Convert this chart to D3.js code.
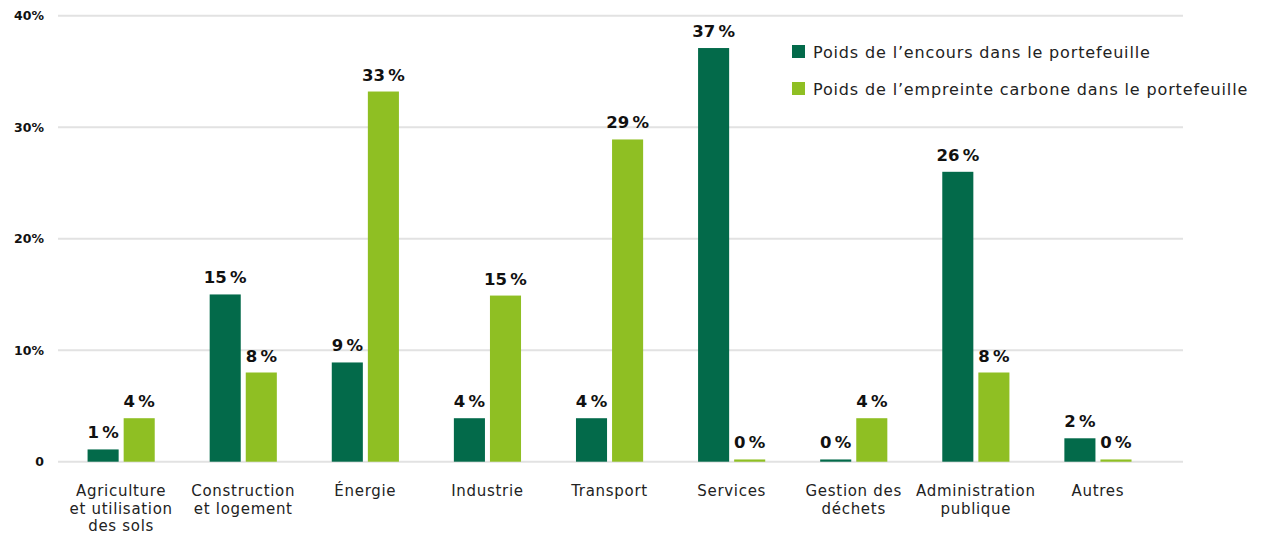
<!DOCTYPE html>
<html>
<head>
<meta charset="utf-8">
<script src="https://cdn.jsdelivr.net/npm/d3@7"></script>
<style>
  html, body { margin: 0; padding: 0; background: #fff; }
  svg { display: block; font-family: "DejaVu Sans", "Open Sans", sans-serif; }
</style>
</head>
<body>
<svg id="chart" width="1263" height="535"></svg>
<script>
// Sector breakdown of the portfolio
const categories = [
  ["Agriculture", "et utilisation", "des sols"],
  ["Construction", "et logement"],
  ["Énergie"],
  ["Industrie"],
  ["Transport"],
  ["Services"],
  ["Gestion des", "déchets"],
  ["Administration", "publique"],
  ["Autres"]
];
const seriesNames = [
  "Poids de l’encours dans le portefeuille",
  "Poids de l’empreinte carbone dans le portefeuille"
];
const encours  = [1.1, 15.0, 8.9, 3.9, 3.9, 37.1, 0.2, 26.0, 2.1];
const empreinte = [3.9, 8.0, 33.2, 14.9, 28.9, 0.2, 3.9, 8.0, 0.2];
const yTicks = [0, 10, 20, 30, 40];
const yTickLabels = ["0", "10%", "20%", "30%", "40%"];
const colors = ["#036a4a", "#8fbf23"];

const svg = d3.select("#chart");
const keys = categories.map((c, i) => i);

const x = d3.scaleBand()
  .domain(keys)
  .range([60.1, 1159])
  .paddingInner(0.45)
  .paddingOuter(0.225);

const xSub = d3.scaleBand()
  .domain([0, 1])
  .range([0, x.bandwidth()])
  .paddingInner(5 / 36);

const y = d3.scaleLinear().domain([0, 40]).range([461.7, 15.7]);

// Horizontal gridlines
svg.append("g")
  .selectAll("line")
  .data(yTicks)
  .join("line")
  .attr("x1", 58).attr("x2", 1183)
  .attr("y1", d => y(d)).attr("y2", d => y(d))
  .attr("stroke", "#e2e2e2")
  .attr("stroke-width", 2);

// Y axis labels
svg.append("g")
  .selectAll("text")
  .data(yTicks)
  .join("text")
  .attr("x", 44)
  .attr("y", d => y(d))
  .attr("dy", "0.35em")
  .attr("text-anchor", "end")
  .attr("font-size", 12.5)
  .attr("font-weight", 700)
  .attr("fill", "#111")
  .text((d, i) => yTickLabels[i]);

// Bars and value labels
const series = [encours, empreinte];
const groups = svg.append("g")
  .selectAll("g")
  .data(keys)
  .join("g")
  .attr("transform", d => `translate(${x(d)},0)`);

groups.selectAll("rect")
  .data(k => series.map((s, j) => ({ j, v: s[k] })))
  .join("rect")
  .attr("x", d => xSub(d.j))
  .attr("width", xSub.bandwidth())
  .attr("y", d => y(d.v))
  .attr("height", d => y(0) - y(d.v))
  .attr("fill", d => colors[d.j]);

groups.selectAll("text.val")
  .data(k => series.map((s, j) => ({ j, v: s[k] })))
  .join("text")
  .attr("class", "val")
  .attr("x", d => xSub(d.j) + xSub.bandwidth() / 2)
  .attr("y", d => y(d.v) - 11)
  .attr("text-anchor", "middle")
  .attr("font-size", 16.5)
  .attr("font-weight", 700)
  .attr("fill", "#111")
  .text(d => Math.round(d.v) + "\u202F%");

// Category labels
groups.append("text")
  .attr("x", x.bandwidth() / 2)
  .attr("y", 496)
  .attr("text-anchor", "middle")
  .attr("font-size", 15)
  .attr("letter-spacing", 0.7)
  .attr("fill", "#222")
  .selectAll("tspan")
  .data(k => categories[k])
  .join("tspan")
  .attr("x", x.bandwidth() / 2)
  .attr("dy", (d, i) => i === 0 ? 0 : 17.5)
  .text(d => d);

// Legend
const legend = svg.append("g")
  .selectAll("g")
  .data(seriesNames)
  .join("g")
  .attr("transform", (d, i) => `translate(792,${45 + i * 37})`);
legend.append("rect")
  .attr("width", 13).attr("height", 13)
  .attr("fill", (d, i) => colors[i]);
legend.append("text")
  .attr("x", 21).attr("y", 12.5)
  .attr("font-size", 16)
  .attr("letter-spacing", 0.85)
  .attr("fill", "#222")
  .text(d => d);
</script>
</body>
</html>
